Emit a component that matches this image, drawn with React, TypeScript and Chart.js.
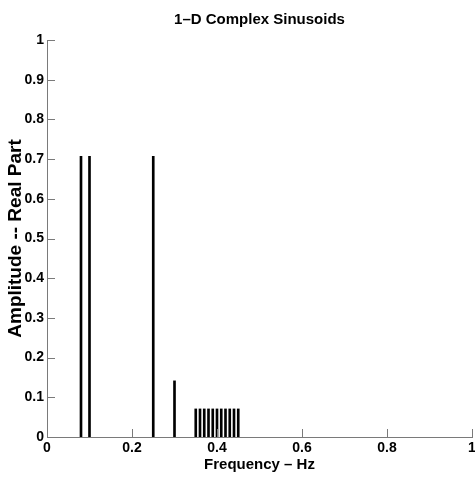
import { useEffect, useRef } from "react";
import { Chart, registerables } from "chart.js";

Chart.register(...registerables);

const FONT = "'Liberation Sans', Arial, Helvetica, sans-serif";

const titleText = "1\u2013D Complex Sinusoids";
const xTitle = "Frequency \u2013 Hz";
const yTitle = "Amplitude -- Real Part";

const frequencies = [0.08, 0.1, 0.25, 0.3, 0.35, 0.36, 0.37, 0.38, 0.39, 0.4, 0.41, 0.42, 0.43, 0.44, 0.45];
const amplitudes = [0.7071, 0.7071, 0.7071, 0.1414, 0.0707, 0.0707, 0.0707, 0.0707, 0.0707, 0.0707, 0.0707, 0.0707, 0.0707, 0.0707, 0.0707];

const xTickValues = [0, 0.2, 0.4, 0.6, 0.8, 1];
const yTickValues = [0, 0.1, 0.2, 0.3, 0.4, 0.5, 0.6, 0.7, 0.8, 0.9, 1];

const AXIS_COLOR = "#7a7a7a";

const insideTicks = {
  id: "insideTicks",
  afterDatasetsDraw(chart: any) {
    const ctx = chart.ctx;
    const x = chart.scales.x;
    const y = chart.scales.y;
    const len = 8;
    ctx.save();
    ctx.strokeStyle = AXIS_COLOR;
    ctx.lineWidth = 1;
    ctx.beginPath();
    xTickValues.forEach((v) => {
      const px = Math.round(x.getPixelForValue(v)) + 0.5;
      ctx.moveTo(px, y.bottom);
      ctx.lineTo(px, y.bottom - len);
    });
    yTickValues.forEach((v) => {
      const py = Math.round(y.getPixelForValue(v)) + 0.5;
      ctx.moveTo(x.left, py);
      ctx.lineTo(x.left + len, py);
    });
    ctx.stroke();
    ctx.restore();
  },
};

const axesTitle = {
  id: "axesTitle",
  afterDraw(chart: any) {
    const ctx = chart.ctx;
    const area = chart.chartArea;
    ctx.save();
    ctx.fillStyle = "#000";
    ctx.font = `bold 15px ${FONT}`;
    ctx.textAlign = "center";
    ctx.textBaseline = "middle";
    ctx.fillText(titleText, (area.left + area.right) / 2, 20);
    ctx.restore();
  },
};

export default function App() {
  const ref = useRef<HTMLCanvasElement | null>(null);

  useEffect(() => {
    if (!ref.current) return;
    const chart = new Chart(ref.current, {
      type: "bar",
      data: {
        datasets: [
          {
            data: frequencies.map((f, i) => ({ x: f, y: amplitudes[i] })),
            backgroundColor: "#000000",
            borderWidth: 0,
            barThickness: 2,
          } as any,
        ],
      },
      options: {
        responsive: false,
        animation: false,
        layout: { padding: { left: 0, right: 0, top: 40, bottom: 0 } },
        plugins: {
          legend: { display: false },
          tooltip: { enabled: false },
          title: { display: false },
        },
        scales: {
          x: {
            type: "linear",
            min: 0,
            max: 1,
            offset: false,
            afterBuildTicks: (s: any) => {
              s.ticks = xTickValues.map((v) => ({ value: v }));
            },
            afterFit: (s: any) => {
              s.height = 40;
              s.paddingRight = 3;
              s.paddingLeft = 0;
            },
            ticks: {
              color: "#000",
              font: { family: FONT, size: 14, weight: "bold" },
              padding: 3,
              maxRotation: 0,
              autoSkip: false,
              callback: (v: any) => String(Number(v)),
            },
            grid: { display: false, drawTicks: false },
            border: { display: true, color: AXIS_COLOR, width: 1 },
            title: {
              display: true,
              text: xTitle,
              color: "#000",
              font: { family: FONT, size: 15, weight: "bold" },
              padding: { top: 0, bottom: 3 },
            },
          },
          y: {
            type: "linear",
            min: 0,
            max: 1,
            afterBuildTicks: (s: any) => {
              s.ticks = yTickValues.map((v) => ({ value: v }));
            },
            afterFit: (s: any) => {
              s.width = 47;
            },
            ticks: {
              color: "#000",
              font: { family: FONT, size: 14, weight: "bold" },
              padding: 3,
              autoSkip: false,
              callback: (v: any) => String(Number(v)),
            },
            grid: { display: false, drawTicks: false },
            border: { display: true, color: AXIS_COLOR, width: 1 },
            title: {
              display: true,
              text: yTitle,
              color: "#000",
              font: { family: FONT, size: 19, weight: "bold" },
              padding: { top: 4, bottom: 0 },
            },
          },
        },
      },
      plugins: [insideTicks, axesTitle],
    });
    return () => chart.destroy();
  }, []);

  return (
    <div style={{ position: "fixed", left: 0, top: 0, width: 475, height: 477, background: "#fff" }}>
      <canvas ref={ref} width={475} height={477} style={{ display: "block" }} />
    </div>
  );
}
